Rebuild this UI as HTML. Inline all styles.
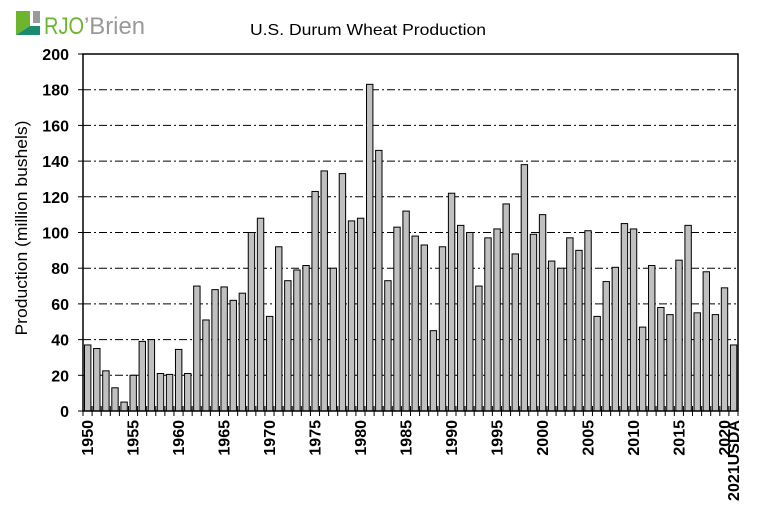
<!DOCTYPE html>
<html><head><meta charset="utf-8"><style>
html,body{margin:0;padding:0;background:#fff;}
svg{display:block;font-family:"Liberation Sans",Arial,sans-serif;}
</style></head><body>
<svg width="763" height="516" viewBox="0 0 763 516">
<rect width="763" height="516" fill="#fff"/>
<polygon points="16,11 30,11 30,26 16,35" fill="#6bb52f"/>
<polygon points="16,35 30,26 40,26 40,35" fill="#1a8a70"/>
<rect x="33" y="11" width="7" height="12" fill="#9a9a9a"/>
<text x="44" y="34" font-size="24" fill="#6bb52f" textLength="40" lengthAdjust="spacingAndGlyphs">RJO</text>
<text x="84" y="34" font-size="24" fill="#999" textLength="61" lengthAdjust="spacingAndGlyphs">’Brien</text>
<text x="368" y="35" font-size="16" text-anchor="middle" fill="#000" textLength="236" lengthAdjust="spacingAndGlyphs">U.S. Durum Wheat Production</text>
<text transform="translate(27,228) rotate(-90)" font-size="17" text-anchor="middle" fill="#000" textLength="215" lengthAdjust="spacingAndGlyphs">Production (million bushels)</text>
<g id="grid" stroke="#000" stroke-width="1" stroke-dasharray="8,3,2,3">
</g>
<g id="bars"></g>
<g id="lbl"></g>
<rect x="83" y="54" width="655" height="357" fill="none" stroke="#000" stroke-width="1.5"/>
</svg>
<script>
var ns="http://www.w3.org/2000/svg";
var v=[37,35,22.5,13,5,20,39,40,21,20.5,34.5,21,70,51,68,69.5,62,66,100,108,53,92,73,79,81.5,123,134.5,80,133,106.5,108,183,146,73,103,112,98,93,45,92,122,104,100,70,97,102,116,88,138,99,110,84,80,97,90,101,53,72.5,80.5,105,102,47,81.5,58,54,84.5,104,55,78,54,69,37];
var svg=document.querySelector("svg");
function el(t,a,p){var e=document.createElementNS(ns,t);for(var k in a)e.setAttribute(k,a[k]);(p||svg).appendChild(e);return e;}
var g=document.getElementById("grid"),b=document.getElementById("bars"),l=document.getElementById("lbl");
var X0=83,X1=738,Y0=411,sc=357/200,w=(X1-X0)/72;
for(var i=1;i<10;i++){var y=Y0-i*20*sc;el("line",{x1:X0,x2:X1,y1:y,y2:y},g);}
for(var i=0;i<=10;i++){var y=Y0-i*20*sc;var t=el("text",{x:69,y:y+6,"font-size":16,"font-weight":"bold","text-anchor":"end"},l);t.textContent=i*20;
 el("line",{x1:78,x2:83,y1:y,y2:y,stroke:"#000"},l);}
for(var i=0;i<72;i++){var x=X0+i*w;var h=v[i]*sc;
 el("rect",{x:x+1.5,y:Y0-h,width:w-2.7,height:h,fill:"#c0c0c0",stroke:"#000","stroke-width":1},b);
 el("line",{x1:x,x2:x,y1:Y0-5,y2:Y0+5,stroke:"#000"},l);
 if(i%5==0){var cx=x+w/2+5.5;var t=el("text",{transform:"translate("+cx+",420) rotate(-90)","font-size":16,"font-weight":"bold","text-anchor":"end"},l);t.textContent=1950+i;}
}
el("line",{x1:X1,x2:X1,y1:Y0-5,y2:Y0+5,stroke:"#000"},l);
var t=el("text",{transform:"translate("+(X0+71*w+w/2+5.5)+",420) rotate(-90)","font-size":16,"font-weight":"bold","text-anchor":"end"},l);t.textContent="2021USDA";
</script>
</body></html>
